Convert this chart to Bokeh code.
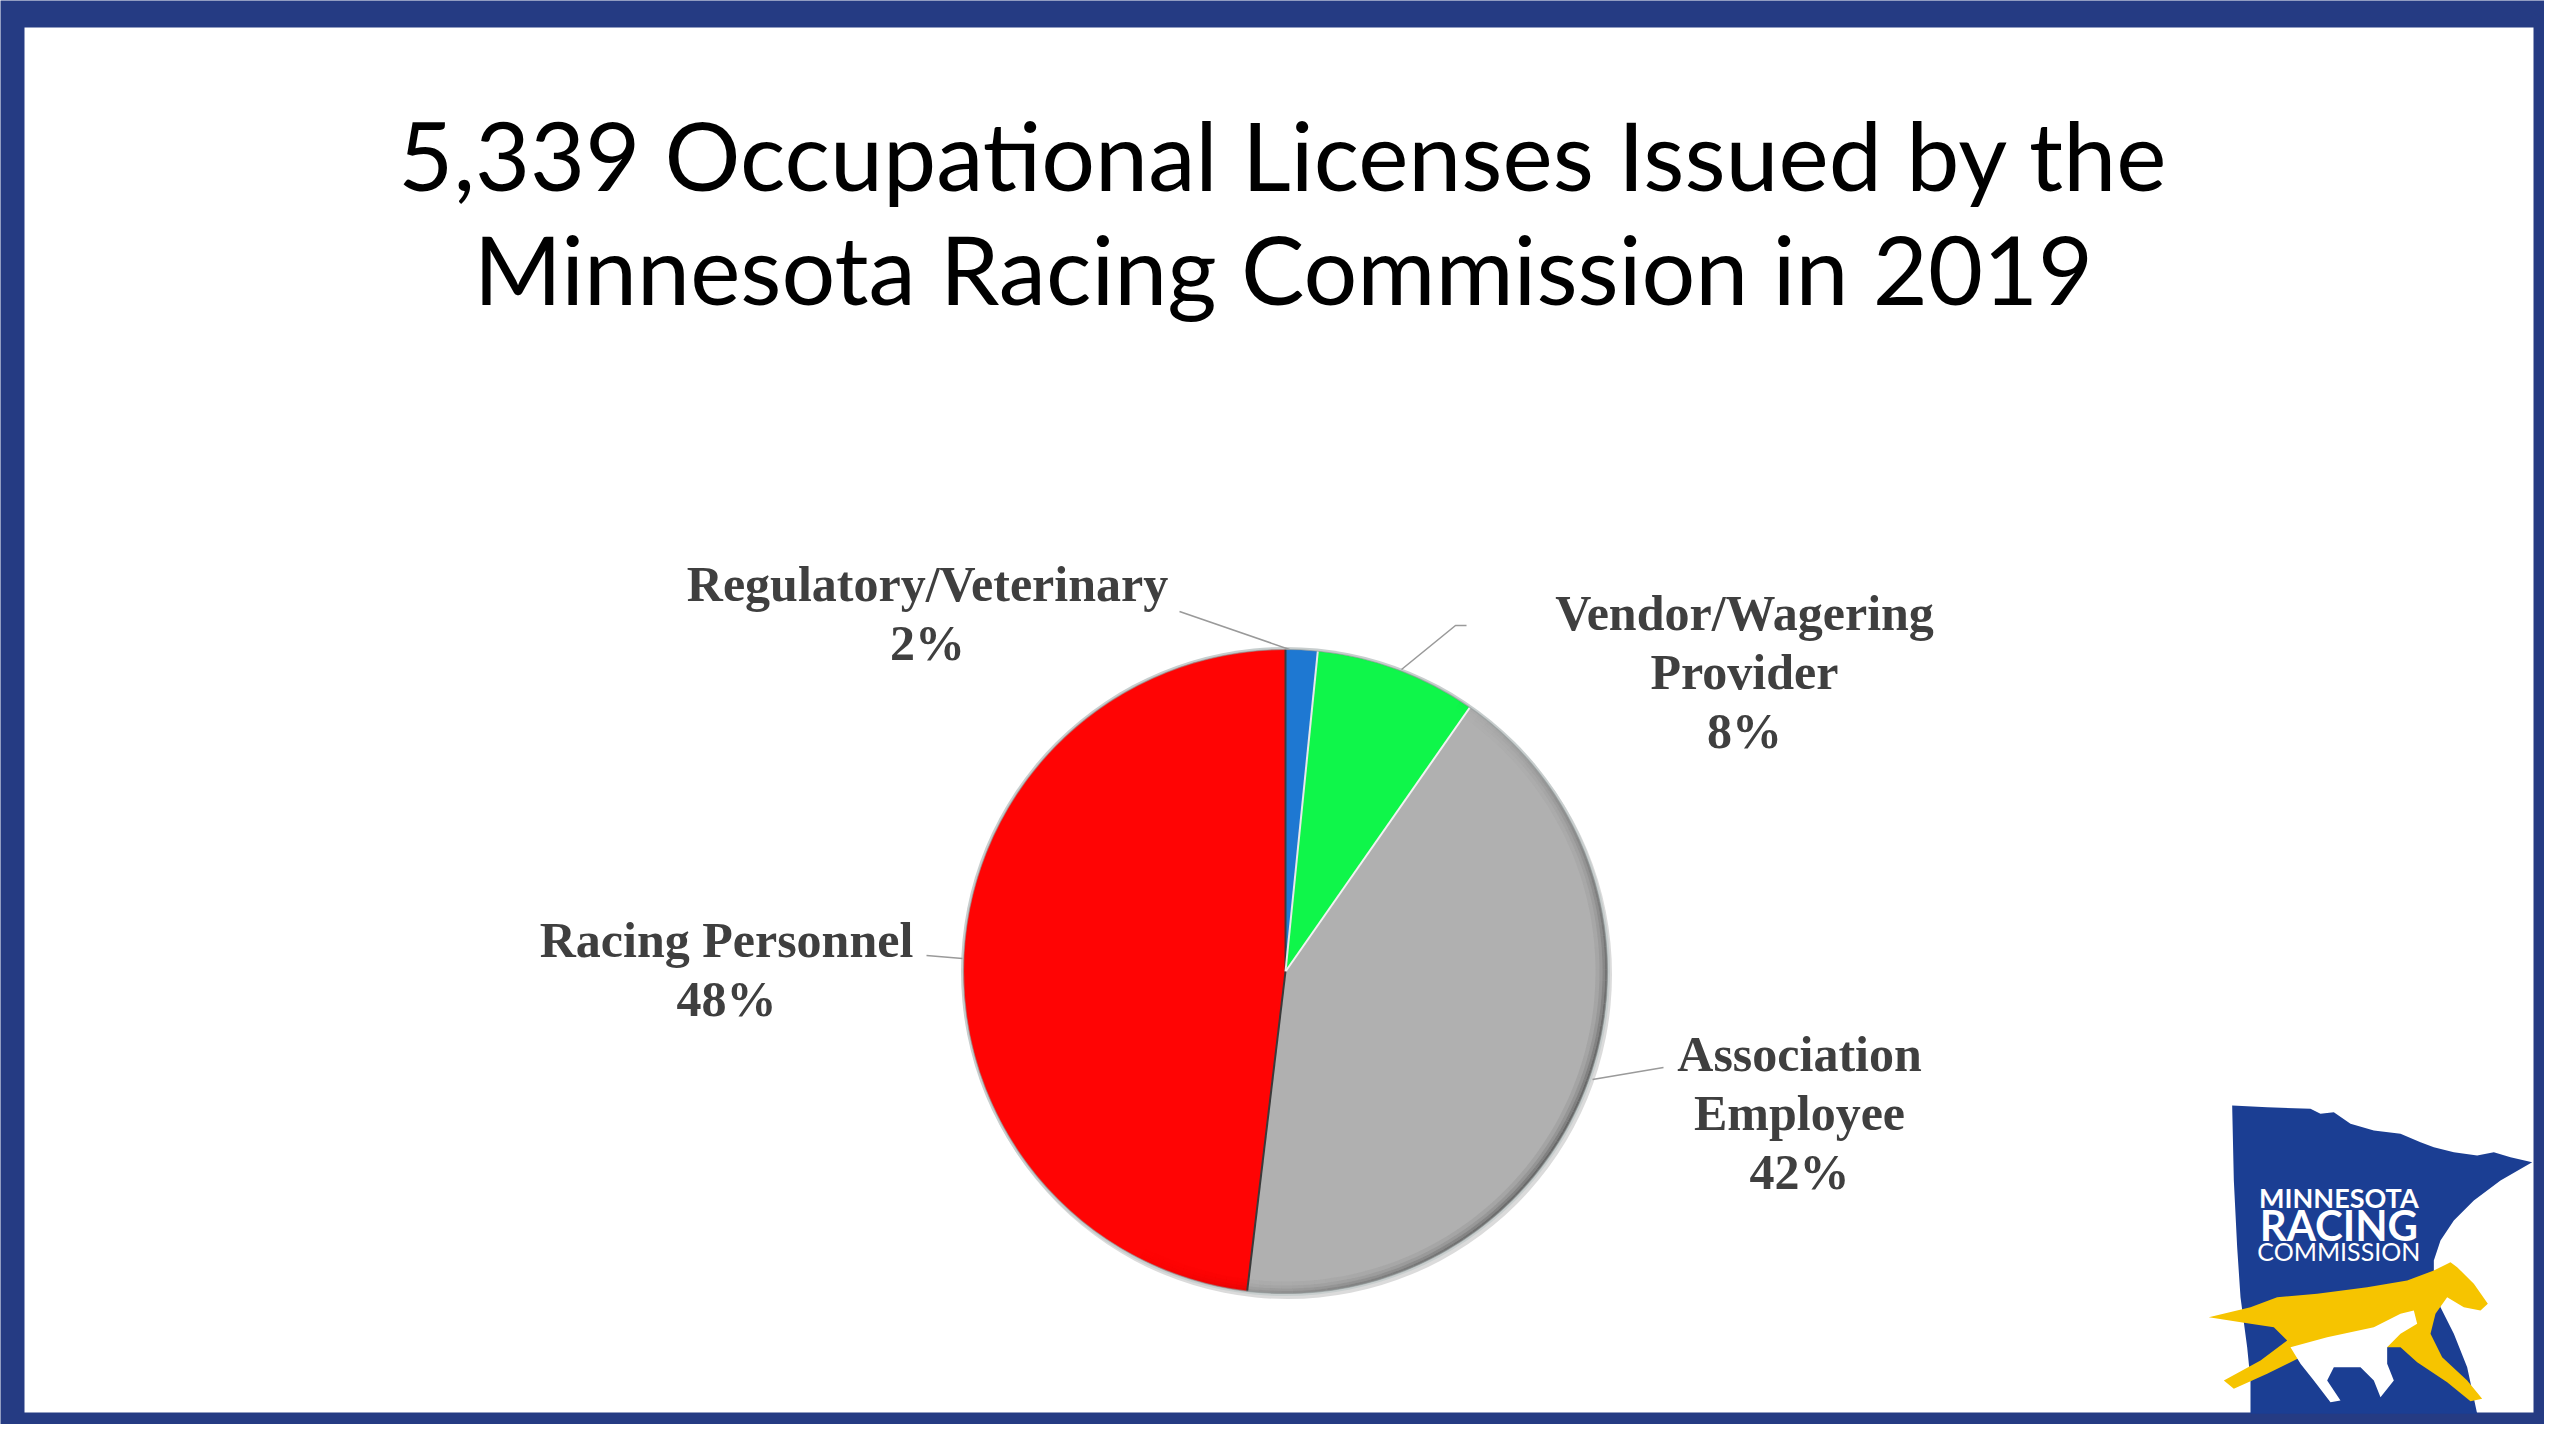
import math
from bokeh.plotting import figure
from bokeh.models import ColumnDataSource
from bokeh.core.properties import value
from bokeh.embed import file_html
from bokeh.resources import INLINE

# ---------------- data ----------------
categories = ["Regulatory/Veterinary", "Vendor/Wagering Provider",
              "Association Employee", "Racing Personnel"]
shares = [1.6, 8.1, 42.2, 48.1]            # percent of 5,339 licenses
pct_labels = ["2%", "8%", "42%", "48%"]
label_lines = [["Regulatory/Veterinary"], ["Vendor/Wagering", "Provider"],
               ["Association", "Employee"], ["Racing Personnel"]]
title_lines = ["5,339 Occupational Licenses Issued by the",
               "Minnesota Racing Commission in 2019"]

# ---------------- styles / layout ----------------
slice_colors = ["#1E78D2", "#0FF64A", "#B0B0B0", "#FF0404"]
rim_colors = ["#0A3F7A", "#078A2A", "#505050", "#A00000"]
sep_colors = ["#3A3A3A", "#E8E8E8", "#F2F2F2", "#3A3A3A"]  # boundary at start of each slice
FRAME = "#253B83"
LOGO_BLUE = "#1B3E93"
LOGO_YELLOW = "#F6C400"
TXT = "#3F3F3F"

W, H = 2544, 1424
def Y(sy):  # screen y (full window) -> data y
    return 1440 - sy

p = figure(width=W, height=H, x_range=(0, W), y_range=(1440 - H, 1440),
           output_backend="svg", toolbar_location=None, min_border=0)
p.axis.visible = False
p.grid.visible = False
p.outline_line_color = None
p.background_fill_color = FRAME
p.border_fill_color = FRAME

# white slide area
p.quad(left=[24], right=[2533], top=[Y(27)], bottom=[Y(1412)],
       fill_color="white", line_color=None)

# title
for i, t in enumerate(title_lines):
    p.text(x=[1283], y=[Y(153 + i * 114)], text=[t],
           text_font=value("Lato"), text_font_size="95px",
           text_color="black", text_align="center", text_baseline="middle")

# ---------------- pie ----------------
cx, cy, r = 1285, Y(971), 322
total = sum(shares)
cum = [0.0]
for s in shares:
    cum.append(cum[-1] + s / total)

def ang(frac):  # fraction clockwise from 12 o'clock -> math angle (rad)
    return math.pi / 2 - frac * 2 * math.pi

# soft shadow / outline
p.circle(x=[cx + 2], y=[cy - 3], radius=r + 2.5, fill_color="#B8B8B8",
         fill_alpha=0.5, line_color=None)
p.circle(x=[cx], y=[cy], radius=r + 2.5, fill_color="#C8CECE", line_color=None)

wsrc = ColumnDataSource(dict(
    start=[ang(cum[i]) for i in range(len(shares))],
    end=[ang(cum[i + 1]) for i in range(len(shares))],
    color=slice_colors, cat=categories))
p.wedge(x=cx, y=cy, radius=r, start_angle="start", end_angle="end",
        direction="clock", fill_color="color", line_color=None, source=wsrc)

# bevel rim: darker toward the lower right
rx, ry, ir, orr, st, en, rc, ra = [], [], [], [], [], [], [], []
light_dir = math.radians(-30)
rings = [(r - 12, r - 8, 0.12), (r - 8, r - 5, 0.28), (r - 5, r - 2.5, 0.5),
         (r - 2.5, r, 0.75)]
for i in range(len(shares)):
    a0, a1 = cum[i], cum[i + 1]
    n = max(1, int((a1 - a0) * 180))
    for k in range(n):
        f0 = a0 + (a1 - a0) * k / n
        f1 = a0 + (a1 - a0) * (k + 1) / n
        mid = ang((f0 + f1) / 2)
        fac = max(0.0, math.cos(mid - light_dir)) ** 1.2
        if fac < 0.03:
            continue
        for (ri, ro, al) in rings:
            rx.append(cx); ry.append(cy); ir.append(ri); orr.append(ro)
            st.append(ang(f0)); en.append(ang(f1))
            rc.append(rim_colors[i]); ra.append(al * fac)
p.annular_wedge(x="x", y="y", inner_radius="ir", outer_radius="or",
                start_angle="st", end_angle="en", direction="clock",
                fill_color="c", fill_alpha="a", line_color=None,
                source=ColumnDataSource(dict(x=rx, y=ry, ir=ir, **{"or": orr},
                                             st=st, en=en, c=rc, a=ra)))

# slice separators
for i in range(len(shares)):
    a = ang(cum[i])
    p.line(x=[cx, cx + r * math.cos(a)], y=[cy, cy + r * math.sin(a)],
           line_color=sep_colors[i], line_width=2)

p.circle(x=[cx], y=[cy], radius=r, fill_color=None, line_color="#8E9696",
         line_width=1.2, line_alpha=0.6)

# ---------------- labels + leader lines ----------------
label_pos = [(927, 583), (1744, 612), (1799, 1053), (726, 939)]
leaders = [[(1179, 611), (1289, 649)],
           [(1401, 669), (1455, 625), (1466, 625)],
           [(1592, 1079), (1663, 1067)],
           [(926, 955), (962, 958)]]
LS = 59
for i in range(len(categories)):
    lines = label_lines[i] + [pct_labels[i]]
    lx0, ly0 = label_pos[i]
    p.text(x=[lx0] * len(lines), y=[Y(ly0 + j * LS) for j in range(len(lines))],
           text=lines, text_font=value("Liberation Serif"), text_font_style="bold",
           text_font_size="50px", text_color=TXT, text_align="center",
           text_baseline="middle")
    pts = leaders[i]
    p.line(x=[q[0] for q in pts], y=[Y(q[1]) for q in pts],
           line_color="#9A9A9A", line_width=1.6)

# ---------------- logo ----------------
def lx(z): return 2200 + z / 3.0
def ly(z): return Y(1080 + z / 3.0)

mn_x = [95, 200, 330, 360, 400, 450, 520, 600, 660, 700, 760, 830, 880, 930, 995,
        900, 820, 760, 720, 700, 700, 720, 760, 800, 830, 150, 150, 140, 120, 110, 100]
mn_y = [75, 80, 85, 100, 95, 130, 150, 160, 185, 200, 215, 225, 215, 230, 245,
        300, 360, 420, 480, 540, 600, 680, 760, 860, 1000, 1000, 900, 800, 650, 500, 300]
p.patch(x=[lx(v) for v in mn_x], y=[ly(v) for v in mn_y],
        fill_color=LOGO_BLUE, line_color=None)

hy_x = [25, 150, 230, 350, 500, 620, 700, 750, 770, 820, 862, 840, 790, 740, 705,
        690, 725, 800, 845, 810, 740, 650, 600, 540, 480, 400, 300, 200, 100, 70,
        180, 260, 220, 150]
hy_y = [710, 680, 650, 640, 620, 600, 570, 545, 560, 610, 670, 690, 680, 650, 700,
        760, 830, 900, 955, 962, 905, 845, 800, 800, 780, 800, 830, 880, 925, 900,
        840, 780, 740, 730]
p.patch(x=[lx(v) for v in hy_x], y=[ly(v) for v in hy_y],
        fill_color=LOGO_YELLOW, line_color=None)

hw_x = [270, 380, 520, 600, 640, 650, 600, 560, 560, 580, 540, 520, 480, 400, 380,
        420, 390, 340, 300]
hw_y = [800, 770, 740, 700, 690, 730, 760, 800, 850, 900, 950, 900, 860, 860, 900,
        960, 965, 900, 850]
p.patch(x=[lx(v) for v in hw_x], y=[ly(v) for v in hw_y],
        fill_color="white", line_color=None)

logo_text = ["MINNESOTA", "RACING", "COMMISSION"]
logo_y = [350, 432, 510]
logo_size = ["27px", "42px", "25px"]
logo_style = ["bold", "bold", "normal"]
for t, yy, sz, sty in zip(logo_text, logo_y, logo_size, logo_style):
    p.text(x=[lx(415)], y=[ly(yy)], text=[t], text_font=value("Lato"),
           text_font_style=sty, text_font_size=sz, text_color="white",
           text_align="center", text_baseline="middle")

html = file_html(p, INLINE, title="Occupational Licenses 2019")
html = html.replace("<body>",
                    '<body style="margin:0;background-color:%s;">' % FRAME, 1)
open("out.html", "w").write(html)
